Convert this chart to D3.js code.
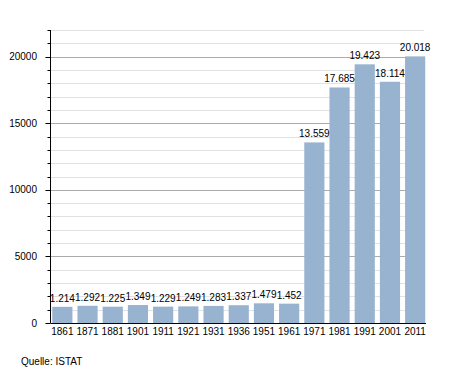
<!DOCTYPE html>
<html>
<head>
<meta charset="utf-8">
<script src="https://cdn.jsdelivr.net/npm/d3@7"></script>
<style>
  body { margin: 0; background: #fff; }
  text { font-family: "Liberation Sans", Arial, sans-serif; fill: #000; }
</style>
</head>
<body>
<div id="chart"></div>
<script>
const years = ["1861", "1871", "1881", "1901", "1911", "1921", "1931", "1936", "1951", "1961", "1971", "1981", "1991", "2001", "2011"];
const population = [1214, 1292, 1225, 1349, 1229, 1249, 1283, 1337, 1479, 1452, 13559, 17685, 19423, 18114, 20018];
const majorTicks = [0, 5000, 10000, 15000, 20000];
const minorTicks = d3.range(1000, 23000, 1000).filter(v => v % 5000 !== 0);

const width = 455, height = 373;
const plotLeft = 50.5, plotRight = 426, plotTop = 30, plotBottom = 323;

const svg = d3.select("#chart")
    .append("svg")
    .attr("width", width)
    .attr("height", height);

const x = d3.scaleBand()
    .domain(years)
    .range([plotLeft, plotRight + 1])
    .paddingInner(0.2)
    .paddingOuter(0.07);

const y = d3.scaleLinear()
    .domain([0, 22000])
    .range([plotBottom, plotTop]);

// minor gridlines
svg.selectAll("line.minor")
    .data(minorTicks)
    .enter()
    .append("line")
    .attr("x1", plotLeft)
    .attr("x2", plotRight - 2)
    .attr("y1", d => Math.round(y(d)) + 0.5)
    .attr("y2", d => Math.round(y(d)) + 0.5)
    .attr("stroke", "#e2e2e2");

// major gridlines
svg.selectAll("line.major")
    .data(majorTicks.filter(d => d > 0))
    .enter()
    .append("line")
    .attr("x1", plotLeft)
    .attr("x2", plotRight - 2)
    .attr("y1", d => Math.round(y(d)) + 0.5)
    .attr("y2", d => Math.round(y(d)) + 0.5)
    .attr("stroke", "#ababab");

// bars
svg.selectAll("rect")
    .data(population)
    .enter()
    .append("rect")
    .attr("x", (d, i) => x(years[i]))
    .attr("y", d => y(d))
    .attr("width", x.bandwidth())
    .attr("height", d => plotBottom - y(d))
    .attr("fill", "#98b3cf");

// value labels
const fmt = v => d3.format(",")(v).replace(/,/g, ".");
svg.selectAll("text.val")
    .data(population)
    .enter()
    .append("text")
    .attr("x", (d, i) => x(years[i]) + x.bandwidth() / 2)
    .attr("y", d => y(d) - 5)
    .attr("text-anchor", "middle")
    .attr("font-size", 10)
    .text(d => fmt(d));

// y axis
const yAxis = svg.append("g");
yAxis.append("line")
    .attr("x1", plotLeft).attr("x2", plotLeft)
    .attr("y1", plotTop).attr("y2", plotBottom)
    .attr("stroke", "#000");
yAxis.selectAll("line.mt")
    .data(minorTicks)
    .enter()
    .append("line")
    .attr("x1", plotLeft - 3).attr("x2", plotLeft)
    .attr("y1", d => Math.round(y(d)) + 0.5)
    .attr("y2", d => Math.round(y(d)) + 0.5)
    .attr("stroke", "#000");
yAxis.selectAll("line.Mt")
    .data(majorTicks)
    .enter()
    .append("line")
    .attr("x1", plotLeft - 5).attr("x2", plotLeft)
    .attr("y1", d => Math.round(y(d)) + 0.5)
    .attr("y2", d => Math.round(y(d)) + 0.5)
    .attr("stroke", "#000");
yAxis.selectAll("text")
    .data(majorTicks)
    .enter()
    .append("text")
    .attr("x", 37)
    .attr("y", d => y(d) + 3.5)
    .attr("text-anchor", "end")
    .attr("font-size", 10)
    .text(d => d);

// x axis
svg.append("line")
    .attr("x1", plotLeft).attr("x2", plotRight)
    .attr("y1", plotBottom + 0.5).attr("y2", plotBottom + 0.5)
    .attr("stroke", "#000");
svg.selectAll("text.year")
    .data(years)
    .enter()
    .append("text")
    .attr("x", d => x(d) + x.bandwidth() / 2)
    .attr("y", plotBottom + 12)
    .attr("text-anchor", "middle")
    .attr("font-size", 10)
    .text(d => d);

svg.append("text")
    .attr("x", 21)
    .attr("y", 365)
    .attr("font-size", 10)
    .text("Quelle: ISTAT");
</script>
</body>
</html>
